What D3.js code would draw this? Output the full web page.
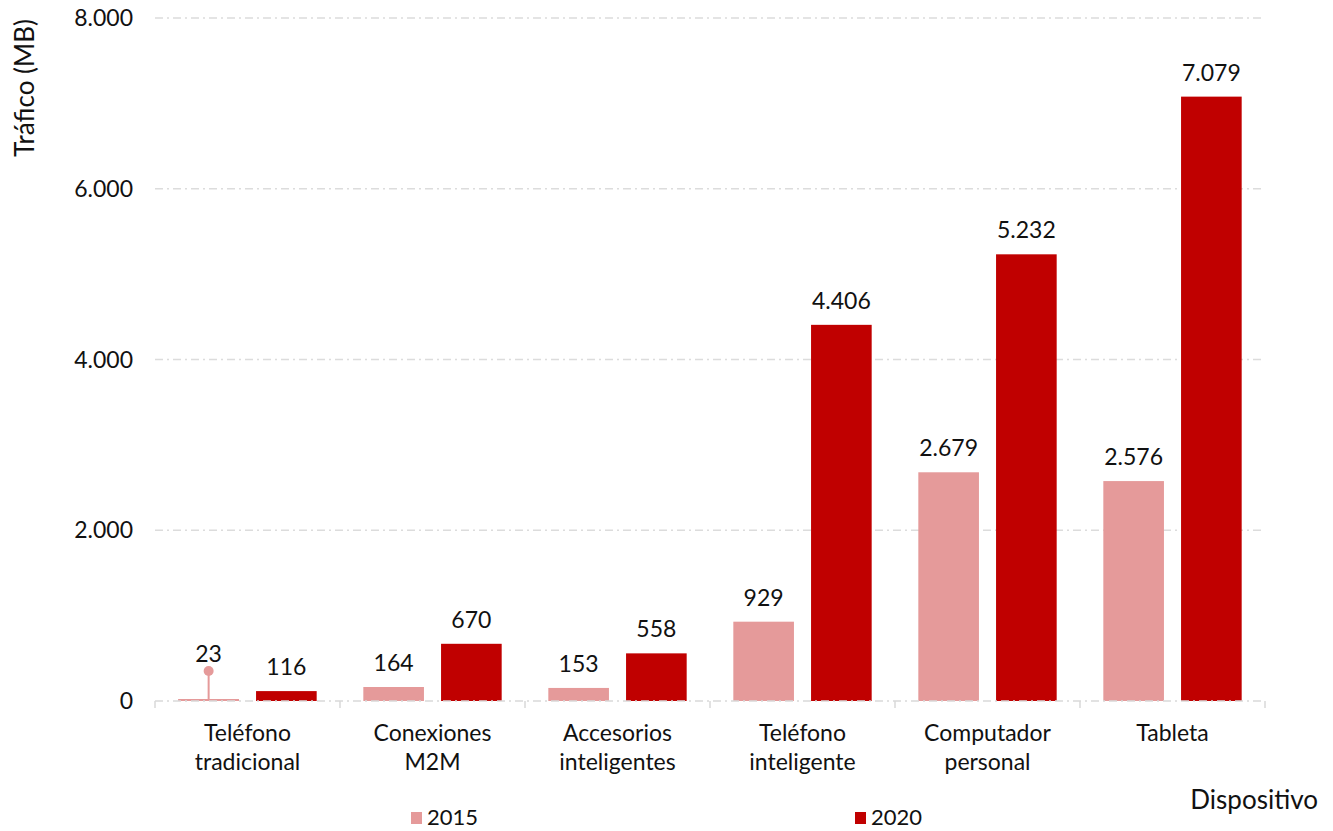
<!DOCTYPE html>
<html>
<head>
<meta charset="utf-8">
<script src="https://cdn.jsdelivr.net/npm/d3@7"></script>
<style>
  body { margin: 0; background: #fff; }
  text { font-family: Lato, "Open Sans", sans-serif; fill: #111; }
</style>
</head>
<body>
<svg id="chart" width="1333" height="831"></svg>
<script>
// datos
const categories = [["Teléfono", "tradicional"], ["Conexiones", "M2M"], ["Accesorios", "inteligentes"],
                    ["Teléfono", "inteligente"], ["Computador", "personal"], ["Tableta"]];
const series = ["2015", "2020"];
const values2015 = [23, 164, 153, 929, 2679, 2576];
const values2020 = [116, 670, 558, 4406, 5232, 7079];
const yTicks = [0, 2000, 4000, 6000, 8000];
const colors = ["#E59A9A", "#C00000"];

const margin = { top: 18, right: 68, bottom: 130, left: 155 },
      width = 1333 - margin.left - margin.right,
      height = 831 - margin.top - margin.bottom;

const svg = d3.select("#chart");
const g = svg.append("g").attr("transform", `translate(${margin.left},${margin.top})`);

const fmt = d3.formatLocale({ decimal: ",", thousands: ".", grouping: [3], currency: ["", ""] }).format(",d");

const x0 = d3.scaleBand().domain(d3.range(categories.length)).range([0, width]).paddingInner(0).paddingOuter(0);
const x1 = d3.scaleBand().domain(series).range([0, x0.bandwidth()]).paddingInner(0.22).paddingOuter(0.3);
const y = d3.scaleLinear().domain([0, 8000]).range([height, 0]);

// rejilla
g.selectAll(".grid").data(yTicks.filter(d => d > 0)).enter().append("line")
  .attr("x1", 0).attr("x2", width)
  .attr("y1", d => y(d)).attr("y2", d => y(d))
  .attr("stroke", "#dcdcdc").attr("stroke-width", 1.3)
  .attr("stroke-dasharray", "8,4,2,4");

// eje y (solo etiquetas)
g.selectAll(".ytick").data(yTicks).enter().append("text")
  .attr("x", -22).attr("y", d => y(d)).attr("dy", "0.35em")
  .attr("text-anchor", "end").style("font-size", "23px")
  .text(d => fmt(d));

g.append("text")
  .attr("transform", `translate(${-121},${y(8000) + 70}) rotate(-90)`)
  .attr("text-anchor", "middle").style("font-size", "26px")
  .text("Tráfico (MB)");

const rows = categories.map((c, i) => ({ i, vals: [values2015[i], values2020[i]] }));

const groups = g.selectAll(".cat").data(rows).enter().append("g")
  .attr("transform", d => `translate(${x0(d.i)},0)`);

groups.selectAll("rect").data(d => d.vals.map((v, k) => ({ v, k }))).enter().append("rect")
  .attr("x", d => x1(series[d.k]))
  .attr("y", d => y(d.v))
  .attr("width", x1.bandwidth())
  .attr("height", d => height - y(d.v))
  .attr("fill", d => colors[d.k]);

// etiquetas de valor
groups.selectAll(".lbl").data(d => d.vals.map((v, k) => ({ v, k, i: d.i }))).enter().append("text")
  .attr("x", d => x1(series[d.k]) + x1.bandwidth() / 2)
  .attr("y", d => d.v < 50 ? y(d.v) - 37 : y(d.v) - 16)
  .attr("text-anchor", "middle").style("font-size", "23px")
  .text(d => fmt(d.v));

// línea guía para el valor pequeño
rows.forEach(r => {
  if (r.vals[0] < 50) {
    const cx = x0(r.i) + x1("2015") + x1.bandwidth() / 2;
    g.append("line").attr("x1", cx).attr("x2", cx)
      .attr("y1", y(r.vals[0]) - 28).attr("y2", height)
      .attr("stroke", colors[0]).attr("stroke-width", 2);
    g.append("line").attr("x1", x0(r.i) + x1("2015")).attr("x2", x0(r.i) + x1("2015") + x1.bandwidth())
      .attr("y1", height - 1).attr("y2", height - 1)
      .attr("stroke", colors[0]).attr("stroke-width", 2);
    g.append("circle").attr("cx", cx).attr("cy", y(r.vals[0]) - 28).attr("r", 5).attr("fill", colors[0]);
  }
});

// eje x
g.append("line").attr("x1", 0).attr("x2", width).attr("y1", height).attr("y2", height)
  .attr("stroke", "#d9d9d9").attr("stroke-width", 1.5).attr("stroke-dasharray", "8,4,2,4");
g.selectAll(".xtick").data(d3.range(categories.length + 1)).enter().append("line")
  .attr("x1", d => d * x0.bandwidth()).attr("x2", d => d * x0.bandwidth())
  .attr("y1", height).attr("y2", height + 7)
  .attr("stroke", "#d9d9d9").attr("stroke-width", 1.5);

const xl = g.selectAll(".xlbl").data(categories).enter().append("text")
  .attr("x", (d, i) => x0(i) + x0.bandwidth() / 2)
  .attr("y", height + 40)
  .attr("text-anchor", "middle").style("font-size", "23px");
xl.selectAll("tspan").data(d => d).enter().append("tspan")
  .attr("x", function () { return this.parentNode.getAttribute("x"); })
  .attr("dy", (d, i) => i === 0 ? 0 : 29)
  .text(d => d);

g.append("text").attr("x", width + 53).attr("y", height + 108)
  .attr("text-anchor", "end").style("font-size", "26px").text("Dispositivo");

// leyenda
const legendX = [411, 855];
const leg = svg.selectAll(".legend").data(series).enter().append("g")
  .attr("transform", (d, i) => `translate(${legendX[i]},812)`);
leg.append("rect").attr("width", 11).attr("height", 12).attr("fill", (d, i) => colors[i]);
leg.append("text").attr("x", 16).attr("y", 13).style("font-size", "22px").text(d => d);
</script>
</body>
</html>
